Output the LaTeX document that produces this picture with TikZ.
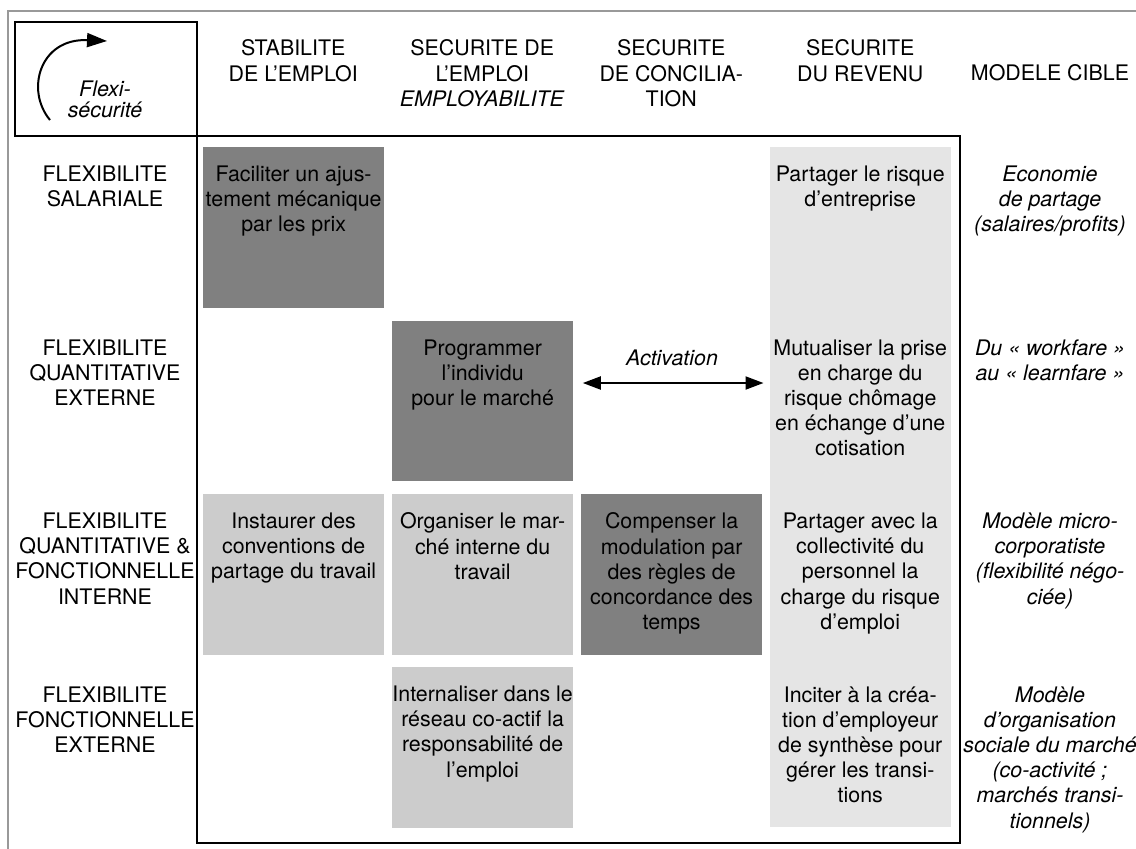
\documentclass[tikz,border=0pt]{standalone}
\usepackage{fontspec}
\setmainfont{TeX Gyre Heros}
\usepackage{tikz}
\usetikzlibrary{arrows.meta,positioning}
\definecolor{cellA}{gray}{0.5}
\definecolor{cellB}{gray}{0.8}
\definecolor{cellC}{gray}{0.9}
\definecolor{cadre}{gray}{0.6}
\tikzset{
  basic/.style  = {font=\fontsize{10.7}{12.6}\selectfont, align=center, inner sep=0pt, anchor=north},
  cible/.style  = {basic, font=\fontsize{10.7}{12.6}\selectfont\itshape},
  box/.style    = {rectangle, inner sep=0pt, minimum width=90.75pt, minimum height=80.25pt,
                   anchor=north west},
  box dark/.style = {box, fill=cellA},
  box mid/.style  = {box, fill=cellB},
  intext/.style = {basic, below=9.25pt of #1.north},
  trait/.style  = {draw, line width=1.2pt, inner sep=0pt, anchor=north west}
}

\begin{document}
\begin{tikzpicture}[x=0.5pt,y=-0.5pt]
\useasboundingbox (0,0) rectangle (1136,848);
\draw[cadre, line width=1.3pt] (8,860) -- (8,11) -- (1150,11);

\node[trait, minimum width=91pt, minimum height=57pt] (flexi) at (14,21) {};
\node[trait, minimum width=381.5pt, minimum height=353.5pt] (grille) at (196,135) {};
\draw[line width=1pt, -{Triangle[length=10pt,width=7pt]}] (50,120) .. controls (25,90) and (40,38) .. (107,41);
\node[basic, font=\fontsize{10.7}{10.5}\selectfont\itshape] (flexitxt) at (105,80.5) {Flexi-\\sécurité};

\node[basic] (h1) at (293.25,39.5) {STABILITE\\DE L’EMPLOI};
\node[basic] (h2) at (482.25,39.5) {SECURITE DE\\L’EMPLOI\\\textit{EMPLOYABILITE}};
\node[basic] (h3) at (671.25,39.5) {SECURITE\\DE CONCILIA-\\TION};
\node[basic] (h4) at (860.25,39.5) {SECURITE\\DU REVENU};
\node[basic] (h5) at (1050,64.5) {MODELE CIBLE};

\node[basic] (r1) at (105,165.5) {FLEXIBILITE\\SALARIALE};
\node[basic] (r2) at (105,339) {FLEXIBILITE\\QUANTITATIVE\\EXTERNE};
\node[basic] (r3) at (105,512.5) {FLEXIBILITE\\QUANTITATIVE \&\\FONCTIONNELLE\\INTERNE};
\node[basic] (r4) at (105,686) {FLEXIBILITE\\FONCTIONNELLE\\EXTERNE};

\node[box, fill=cellC, minimum height=340pt] (revenu) at (769.5,147) {};
\node[box dark] (b11) at (202.5,147) {};
\node[box dark] (b22) at (391.5,320.5) {};
\node[box mid] (b31) at (202.5,494) {};
\node[box mid] (b32) at (391.5,494) {};
\node[box dark] (b33) at (580.5,494) {};
\node[box mid] (b42) at (391.5,667) {};

\node[intext=b11] (t11) {Faciliter un ajus-\\tement mécanique\\par les prix};
\node[intext=b22] (t22) {Programmer\\l’individu\\pour le marché};
\node[intext=b31] (t31) {Instaurer des\\conventions de\\partage du travail};
\node[intext=b32] (t32) {Organiser le mar-\\ché interne du\\travail};
\node[intext=b33] (t33) {Compenser la\\modulation par\\des règles de\\concordance des\\temps};
\node[intext=b42] (t42) {Internaliser dans le\\réseau co-actif la\\responsabilité de\\l’emploi};

\node[basic] (t14) at (860.25,165.5) {Partager le risque\\d’entreprise};
\node[basic] (t24) at (860.25,339) {Mutualiser la prise\\en charge du\\risque chômage\\en échange d’une\\cotisation};
\node[basic] (t34) at (860.25,512.5) {Partager avec la\\collectivité du\\personnel la\\charge du risque\\d’emploi};
\node[basic] (t44) at (860.25,686) {Inciter à la créa-\\tion d’employeur\\de synthèse pour\\gérer les transi-\\tions};

\node[cible] (m1) at (1050,165.5) {Economie\\de partage\\(salaires/profits)};
\node[cible] (m2) at (1050,339) {Du « workfare »\\au « learnfare »};
\node[cible] (m3) at (1050,512.5) {Modèle micro-\\corporatiste\\(flexibilité négo-\\ciée)};
\node[cible] (m4) at (1050,686) {Modèle\\d’organisation\\sociale du marché\\(co-activité ;\\marchés transi-\\tionnels)};

\node[cible, anchor=base] (act) at (672,365) {Activation};
\coordinate (actline) at (672,383);
\draw[line width=1pt, {Triangle[length=9pt,width=6.5pt]}-{Triangle[length=9pt,width=6.5pt]},
      shorten <=4.5pt, shorten >=3pt] (b22.east |- actline) -- (revenu.west |- actline);
\end{tikzpicture}
\end{document}
